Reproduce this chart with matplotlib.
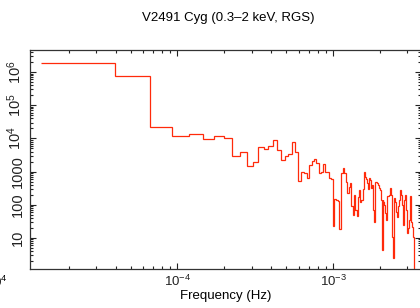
import numpy as np
import matplotlib
matplotlib.use("Agg")
import matplotlib.pyplot as plt
from matplotlib.ticker import FixedLocator, FixedFormatter, LogLocator, NullFormatter

plt.rcParams['font.family'] = ['Liberation Sans', 'DejaVu Sans']
plt.rcParams['mathtext.fontset'] = 'custom'
plt.rcParams['mathtext.rm'] = 'Liberation Sans'
plt.rcParams['mathtext.it'] = 'Liberation Sans'

# --- data: power spectrum, frequency bin width df (Hz) ---
df = 2.65e-5
power = [1.9e6, 7.6e5, 2.2e4, 1.2e4, 1.4e4, 9.5e3, 1.17e4, 1.05e4, 3000, 4000,
         1480, 2000, 5600, 4900, 5900, 8700, 4500, 2300, 3000, 3400,
         7600, 3800, 520, 1000, 910, 640, 1550, 2100, 2400, 1800,
         900, 950, 1700, 1000, 1000, 640, 600, 23, 150, 140,
         130, 19, 900, 1300, 900, 500, 230, 350, 460, 90,
         50, 200, 70, 45, 170, 280, 120, 140, 300, 950,
         700, 600, 450, 300, 640, 560, 320, 400, 70, 30,
         500, 480, 450, 400, 320, 280, 140, 4.3, 140, 120,
         100, 56, 35, 90, 180, 190, 200, 320, 260, 200,
         11, 2.5, 60, 160, 120, 90, 60, 44, 90, 120,
         140, 280, 230, 200, 180, 100, 25, 80, 140, 200,
         120, 70, 35, 14, 20, 28, 35, 40, 180, 44,
         30, 22, 17, 11, 11, 0.3]

ytick_vals = [10, 100, 1000, 1e4, 1e5, 1e6]
ytick_labels = ["10", "100", "1000", r"$10^4$", r"$10^5$", r"$10^6$"]
xtick_vals = [1e-4, 1e-3]
xtick_labels = [r"$10^{-4}$", r"$10^{-3}$"]

power = np.array(power)
edges = (np.arange(len(power) + 1) + 0.5) * df

fig = plt.figure(figsize=(4.2, 3.08), dpi=100)
ax = fig.add_axes([0.0714, 0.1266, 0.932, 0.711])

ax.stairs(power, edges, baseline=None, color='#ff2a0a', lw=0.9)

ax.set_xscale('log')
ax.set_yscale('log')
ax.set_xlim(1.127e-5, 3.70e-3)
ax.set_ylim(1.16, 4.6e6)

ax.yaxis.set_major_locator(FixedLocator(ytick_vals))
ax.yaxis.set_major_formatter(FixedFormatter(ytick_labels))
ax.yaxis.set_minor_locator(LogLocator(base=10, subs=np.arange(2, 10), numticks=20))
ax.yaxis.set_minor_formatter(NullFormatter())
ax.xaxis.set_major_locator(FixedLocator(xtick_vals))
ax.xaxis.set_major_formatter(FixedFormatter(xtick_labels))
ax.xaxis.set_minor_locator(LogLocator(base=10, subs=np.arange(2, 10), numticks=20))
ax.xaxis.set_minor_formatter(NullFormatter())

ax.tick_params(which='both', direction='in', top=True, right=True, width=0.8,
               labelsize=9.5, colors='#222222')
ax.tick_params(which='major', length=4.5)
ax.tick_params(which='minor', length=2.2)
ax.tick_params(axis='y', pad=4, labelsize=10.5)
for lab in ax.get_yticklabels():
    lab.set_rotation(90)
    lab.set_va('center')

for s in ax.spines.values():
    s.set_color('#333333')
    s.set_linewidth(0.9)

ax.set_xlabel("Frequency (Hz)", fontsize=9.5, labelpad=1)
fig.text(228 / 420, 1 - 18 / 308, "V2491 Cyg (0.3\u20132 keV, RGS)",
         ha='center', va='center', fontsize=9.5)
# cut-off tick label from a neighbouring panel
fig.text(8 / 420, 1 - 282 / 308, r"$10^4$", ha='right', va='center', fontsize=9.5)

fig.savefig("out.png", dpi=100)
